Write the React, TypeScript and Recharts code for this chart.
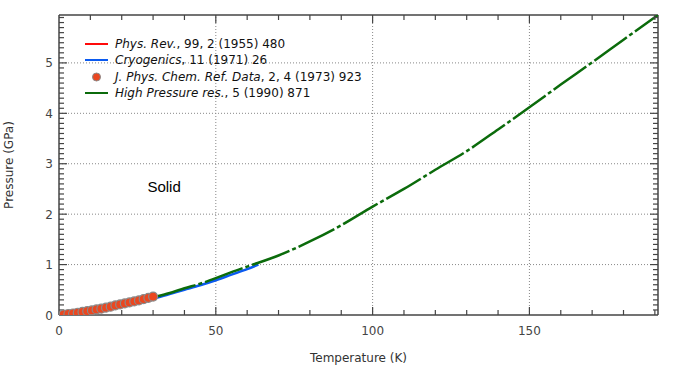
import {
  ComposedChart,
  Legend,
  Line,
  ReferenceDot,
  ReferenceLine,
  Scatter,
  XAxis,
  YAxis,
} from "recharts";

document.body.style.margin = "0";

// Phys. Rev. 99, 2 (1955) 480
const physRevT = [1, 5, 10, 15, 20, 25, 29];
const physRevP = [0.005, 0.04, 0.085, 0.14, 0.2, 0.27, 0.34];

// Cryogenics 11 (1971) 26
const cryoT = [2, 5, 10, 15, 20, 25, 30, 35, 40, 45, 50, 55, 60, 63.6];
const cryoP = [0.01, 0.035, 0.075, 0.125, 0.185, 0.25, 0.32, 0.41, 0.5, 0.59, 0.69, 0.8, 0.91, 1.0];

// J. Phys. Chem. Ref. Data 2, 4 (1973) 923 (points)
const jpcrdT = [1.5, 3, 4.5, 6, 7.5, 9, 10.5, 12, 13.5, 15, 16.5, 18, 19.5, 21, 22.5, 24, 25.5, 27, 28.5, 30];
const jpcrdP = [0.01, 0.02, 0.03, 0.045, 0.06, 0.075, 0.09, 0.11, 0.125, 0.145, 0.165, 0.19, 0.21, 0.23, 0.25, 0.27, 0.29, 0.315, 0.34, 0.365];

// High Pressure res. 5 (1990) 871
const hpT = [0, 5, 10, 15, 20, 25, 30, 35, 40, 45, 50, 55, 60, 70, 80, 90, 100, 110, 120, 130, 140, 150, 160, 170, 180, 191];
const hpP = [0, 0.04, 0.09, 0.14, 0.21, 0.27, 0.35, 0.43, 0.53, 0.62, 0.73, 0.85, 0.96, 1.18, 1.46, 1.78, 2.15, 2.5, 2.88, 3.25, 3.68, 4.12, 4.57, 5.01, 5.46, 5.95];

const X_MAX = 191;
const Y_MAX = 5.95;
const xTicks = Array.from({ length: 19 }, (_, i) => (i + 1) * 10);
const yTicks = Array.from({ length: 59 }, (_, i) => (i + 1) / 10);
const xLabels = [0, 50, 100, 150];
const yLabels = [0, 1, 2, 3, 4, 5];
const xGrid = [50, 100, 150];
const yGrid = [1, 2, 3, 4, 5];

const zip = (ts: number[], ps: number[]) => ts.map((t, i) => ({ t, p: ps[i] }));

const physRev = zip(physRevT, physRevP);
const cryo = zip(cryoT, cryoP);
const jpcrd = zip(jpcrdT, jpcrdP);
const highP = zip(hpT, hpP);

// tick anchor points on the four edges of the frame
const bottomTicks = xTicks.map((t) => ({ t, p: 0 }));
const topTicks = xTicks.map((t) => ({ t, p: Y_MAX }));
const leftTicks = yTicks.map((p) => ({ t: 0, p }));
const rightTicks = yTicks.map((p) => ({ t: X_MAX, p }));

const RED = "#ff0a0a";
const BLUE = "#0a5af0";
const GREEN = "#0b6b0b";
const DOT_FILL = "#ea4720";
const DOT_EDGE = "#8a8a8a";
const AXIS = "#444";
const FONT = "'DejaVu Sans', Verdana, sans-serif";

const isMajorX = (v: number) => v % 50 === 0;
const isMajorY = (v: number) => Math.abs(v - Math.round(v)) < 1e-6;

const tickLine = { stroke: AXIS, strokeWidth: 1.2 };

const BottomTick = ({ cx, cy, payload }: any) => (
  <line x1={cx} y1={cy} x2={cx} y2={cy - (isMajorX(payload.t) ? 8 : 5)} {...tickLine} />
);
const TopTick = ({ cx, cy, payload }: any) => (
  <line x1={cx} y1={cy} x2={cx} y2={cy + (isMajorX(payload.t) ? 8 : 5)} {...tickLine} />
);
const LeftTick = ({ cx, cy, payload }: any) => (
  <line x1={cx} y1={cy} x2={cx + (isMajorY(payload.p) ? 8 : 5)} y2={cy} {...tickLine} />
);
const RightTick = ({ cx, cy, payload }: any) => (
  <line x1={cx} y1={cy} x2={cx - (isMajorY(payload.p) ? 8 : 5)} y2={cy} {...tickLine} />
);

const BottomLabel = ({ x, y, payload }: any) => (
  <text x={x} y={y + 20} textAnchor="middle" fontSize={12} fontFamily={FONT} fill="#444">
    {payload.value}
  </text>
);

const LeftLabel = ({ x, y, payload }: any) => (
  <text x={x - 6} y={y + 4.5} textAnchor="end" fontSize={12} fontFamily={FONT} fill="#444">
    {payload.value}
  </text>
);

const legendItems = [
  { kind: "line", color: RED, italic: "Phys. Rev.", rest: ", 99, 2 (1955) 480" },
  { kind: "line", color: BLUE, italic: "Cryogenics", rest: ", 11 (1971) 26" },
  { kind: "dot", color: DOT_FILL, italic: "J. Phys. Chem. Ref. Data", rest: ", 2, 4 (1973) 923" },
  { kind: "line", color: GREEN, italic: "High Pressure res.", rest: ", 5 (1990) 871" },
];

const renderLegend = () => (
  <div style={{ fontFamily: FONT, fontSize: 12, color: "#111" }}>
    {legendItems.map((item) => (
      <div key={item.italic} style={{ display: "flex", alignItems: "center", height: 16.3 }}>
        <svg width={30} height={10}>
          {item.kind === "line" ? (
            <line x1={0} x2={23} y1={5} y2={5} stroke={item.color} strokeWidth={2} />
          ) : (
            <circle cx={11.5} cy={5} r={4} fill={item.color} stroke={DOT_EDGE} strokeWidth={1} />
          )}
        </svg>
        <span style={{ whiteSpace: "nowrap" }}>
          <i>{item.italic}</i>
          {item.rest}
        </span>
      </div>
    ))}
  </div>
);

const Marker = ({ cx, cy }: any) => (
  <circle cx={cx} cy={cy} r={4.5} fill={DOT_FILL} stroke={DOT_EDGE} strokeWidth={1.2} />
);

const axisLineStyle = { stroke: AXIS, strokeWidth: 1.5 };
const gridStyle = { stroke: "#888", strokeDasharray: "1 2", strokeWidth: 1 };

export default function App() {
  return (
    <div style={{ width: 691, height: 366, background: "#fff" }}>
      <ComposedChart width={691} height={366} margin={{ top: 15, right: 33, bottom: 0, left: 0 }}>
        <XAxis
          xAxisId="bottom"
          dataKey="t"
          type="number"
          domain={[0, X_MAX]}
          ticks={xLabels}
          interval={0}
          allowDataOverflow
          height={51}
          tickSize={0}
          tickMargin={0}
          tickLine={false}
          tick={<BottomLabel />}
          axisLine={axisLineStyle}
          label={{ value: "Temperature (K)", position: "insideBottom", offset: 4, fill: "#333", fontSize: 12, fontFamily: FONT }}
        />
        <YAxis
          yAxisId="left"
          dataKey="p"
          type="number"
          domain={[0, Y_MAX]}
          ticks={yLabels}
          interval={0}
          allowDataOverflow
          width={59}
          tickSize={0}
          tickMargin={0}
          tickLine={false}
          tick={<LeftLabel />}
          axisLine={axisLineStyle}
          label={{
            value: "Pressure (GPa)",
            angle: -90,
            position: "insideLeft",
            offset: 9,
            fill: "#333",
            fontSize: 12,
            fontFamily: FONT,
            style: { textAnchor: "middle" },
          }}
        />
        {/* frame: top and right edges */}
        <ReferenceLine xAxisId="bottom" yAxisId="left" y={Y_MAX} stroke={AXIS} strokeWidth={1.5} ifOverflow="visible" />
        <ReferenceLine xAxisId="bottom" yAxisId="left" x={X_MAX} stroke={AXIS} strokeWidth={1.5} ifOverflow="visible" />
        {xGrid.map((v) => (
          <ReferenceLine key={`gx${v}`} xAxisId="bottom" yAxisId="left" x={v} {...gridStyle} />
        ))}
        {yGrid.map((v) => (
          <ReferenceLine key={`gy${v}`} xAxisId="bottom" yAxisId="left" y={v} {...gridStyle} />
        ))}
        {/* inward tick marks, drawn as scatter shapes on the frame */}
        <Scatter xAxisId="bottom" yAxisId="left" data={bottomTicks} dataKey="p" shape={<BottomTick />} legendType="none" isAnimationActive={false} />
        <Scatter xAxisId="bottom" yAxisId="left" data={topTicks} dataKey="p" shape={<TopTick />} legendType="none" isAnimationActive={false} />
        <Scatter xAxisId="bottom" yAxisId="left" data={leftTicks} dataKey="p" shape={<LeftTick />} legendType="none" isAnimationActive={false} />
        <Scatter xAxisId="bottom" yAxisId="left" data={rightTicks} dataKey="p" shape={<RightTick />} legendType="none" isAnimationActive={false} />
        <Legend
          content={renderLegend}
          layout="vertical"
          align="center"
          verticalAlign="middle"
          wrapperStyle={{ top: 36, left: 85, width: "auto" }}
        />
        <Scatter
          xAxisId="bottom"
          yAxisId="left"
          data={jpcrd}
          dataKey="p"
          shape={<Marker />}
          isAnimationActive={false}
        />
        <Line
          xAxisId="bottom"
          yAxisId="left"
          data={physRev}
          dataKey="p"
          type="monotone"
          stroke={RED}
          strokeWidth={2.5}
          dot={false}
          isAnimationActive={false}
        />
        <Line
          xAxisId="bottom"
          yAxisId="left"
          data={cryo}
          dataKey="p"
          type="monotone"
          stroke={BLUE}
          strokeWidth={2.5}
          dot={false}
          isAnimationActive={false}
        />
        <Line
          xAxisId="bottom"
          yAxisId="left"
          data={highP}
          dataKey="p"
          type="monotone"
          stroke={GREEN}
          strokeWidth={2.5}
          strokeDasharray="40 3 4 3"
          dot={false}
          isAnimationActive={false}
        />
        <ReferenceDot
          xAxisId="bottom"
          yAxisId="left"
          x={33.5}
          y={2.54}
          r={1}
          fill="none"
          stroke="none"
          label={{ value: "Solid", position: "center", fill: "#000", fontSize: 15, fontFamily: "'Liberation Sans', Arial, sans-serif" }}
        />
      </ComposedChart>
    </div>
  );
}
